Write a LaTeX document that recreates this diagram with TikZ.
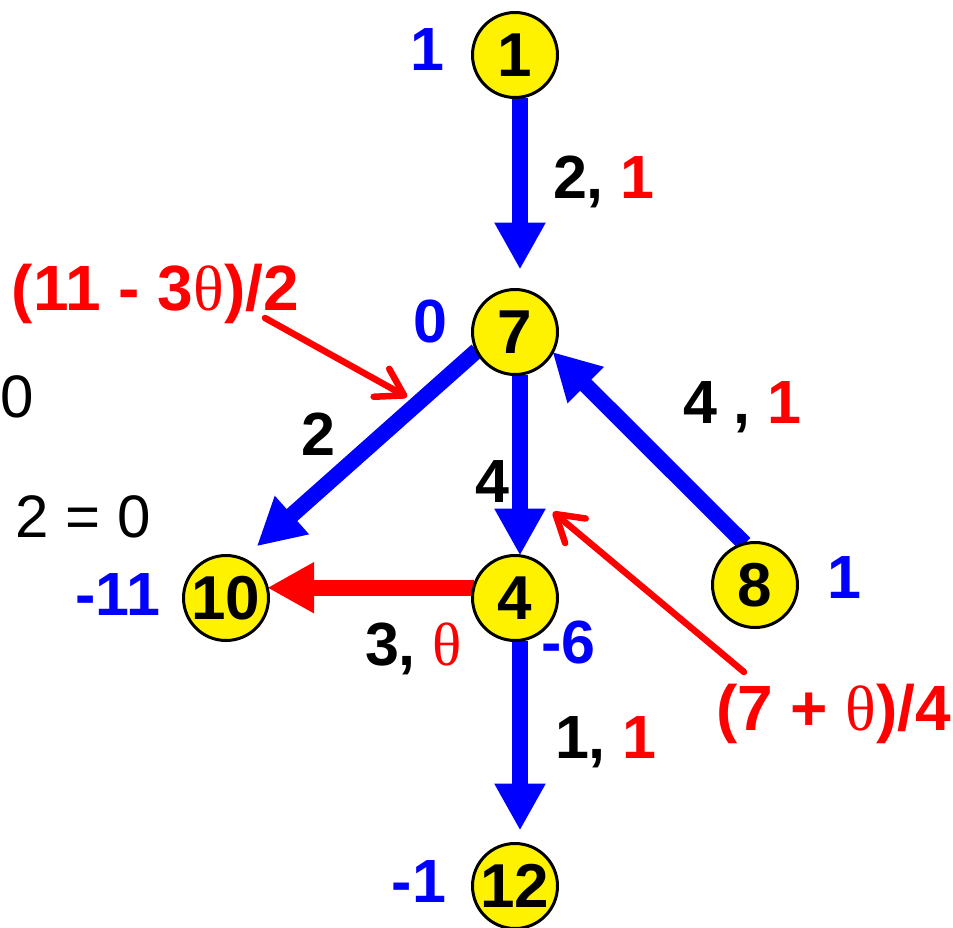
\documentclass[tikz,border=0pt]{standalone}
\usepackage{fontspec}
\setmainfont{Liberation Sans}
\newfontfamily\thfont{Liberation Serif}
\usetikzlibrary{arrows.meta,backgrounds}
\newcommand{\thv}{{\thfont\mdseries θ}}
\tikzset{
  vtx/.style={circle, draw=black, line width=3pt, fill=yellow, minimum size=85pt, inner sep=0pt, outer sep=0pt, font=\fontsize{62}{62}\selectfont\bfseries},
  lbl/.style={inner sep=0pt, outer sep=0pt, font=\fontsize{61}{61}\selectfont\bfseries},
  biglbl/.style={inner sep=0pt, outer sep=0pt, font=\fontsize{64}{64}\selectfont\bfseries},
  rlbl/.style={inner sep=0pt, outer sep=0pt, font=\fontsize{60}{60}\selectfont},
  bluearr/.style={draw=blue, line width=16pt, -{Triangle[length=47pt,width=48pt]}},
  redarr/.style={draw=red, line width=16pt, -{Triangle[length=47pt,width=48pt]}},
  ptr/.style={draw=red, line width=6.5pt, line cap=round, -{Straight Barb[length=26pt,width=32pt,round]}},
}
\begin{document}
\begin{tikzpicture}[x=1pt,y=-1pt]
\useasboundingbox (0,0) rectangle (953,927);
\clip (0,0) rectangle (953,927);

% vertices
\node[vtx] (n1) at (515,55) {1};
\node[vtx] (n7) at (515,332) {7};
\node[vtx] (n4) at (515,598) {4};
\node[vtx] (n10) at (226,598) {10};
\node[vtx] (n8) at (755,585) {8};
\node[vtx] (n12) at (515,886) {12};

\coordinate (p1) at (265,318);
\coordinate (q1) at (407,397);
\coordinate (p2) at (744,672);
\coordinate (q2) at (553,512);

\begin{scope}[on background layer]
\fill[white] (0,0) rectangle (953,927);
\draw[bluearr, shorten >=20pt] ([xshift=5pt]n1.south) -- ([xshift=5pt]n7.north);
\draw[bluearr, shorten >=19pt] (n7.206) -- (n10.67);
\draw[bluearr] ([xshift=5pt]n7.south) -- ([xshift=5pt]n4.north);
\draw[bluearr] (n8.104) -- (n7.-28);
\draw[redarr] (n4.166) -- (n10.14);
\draw[bluearr, shorten >=13pt] ([xshift=5pt]n4.south) -- ([xshift=5pt]n12.north);
\end{scope}

\draw[ptr] (p1) -- (q1);
\draw[ptr] (p2) -- (q2);

% labels
\node[lbl, text=blue, anchor=base] (l1) at (427,70) {1};
\node[lbl, anchor=base west] (l17) at (553,198) {2, \textcolor{red}{1}};
\node[biglbl, text=red, anchor=base west] (lth1) at (12,310) {(11 - 3\thv)/2};
\node[lbl, text=blue, anchor=base] (l0) at (430,342) {0};
\node[rlbl, anchor=base west] (lz) at (1,417) {0};
\node[rlbl, anchor=base west] (leq) at (16,537) {2 = 0};
\node[lbl, anchor=base] (l710) at (318,455) {2};
\node[lbl, anchor=base] (l74) at (492,502) {4};
\node[lbl, anchor=base west] (l87) at (683,423) {4 , \textcolor{red}{1}};
\node[lbl, text=blue, anchor=base east] (lm11) at (160,615) {-11};
\node[lbl, anchor=base west] (l410) at (365,665) {3, \textcolor{red}{\thv}};
\node[lbl, text=blue, anchor=base west] (lm6) at (541,663) {-6};
\node[lbl, anchor=base west] (l412) at (555,758) {1, \textcolor{red}{1}};
\node[biglbl, text=red, anchor=base west] (lth2) at (716,730) {(7 + \thv)/4};
\node[lbl, text=blue, anchor=base] (l8) at (844,598) {1};
\node[lbl, text=blue, anchor=base east] (lm1) at (446,902) {-1};
\end{tikzpicture}
\end{document}
